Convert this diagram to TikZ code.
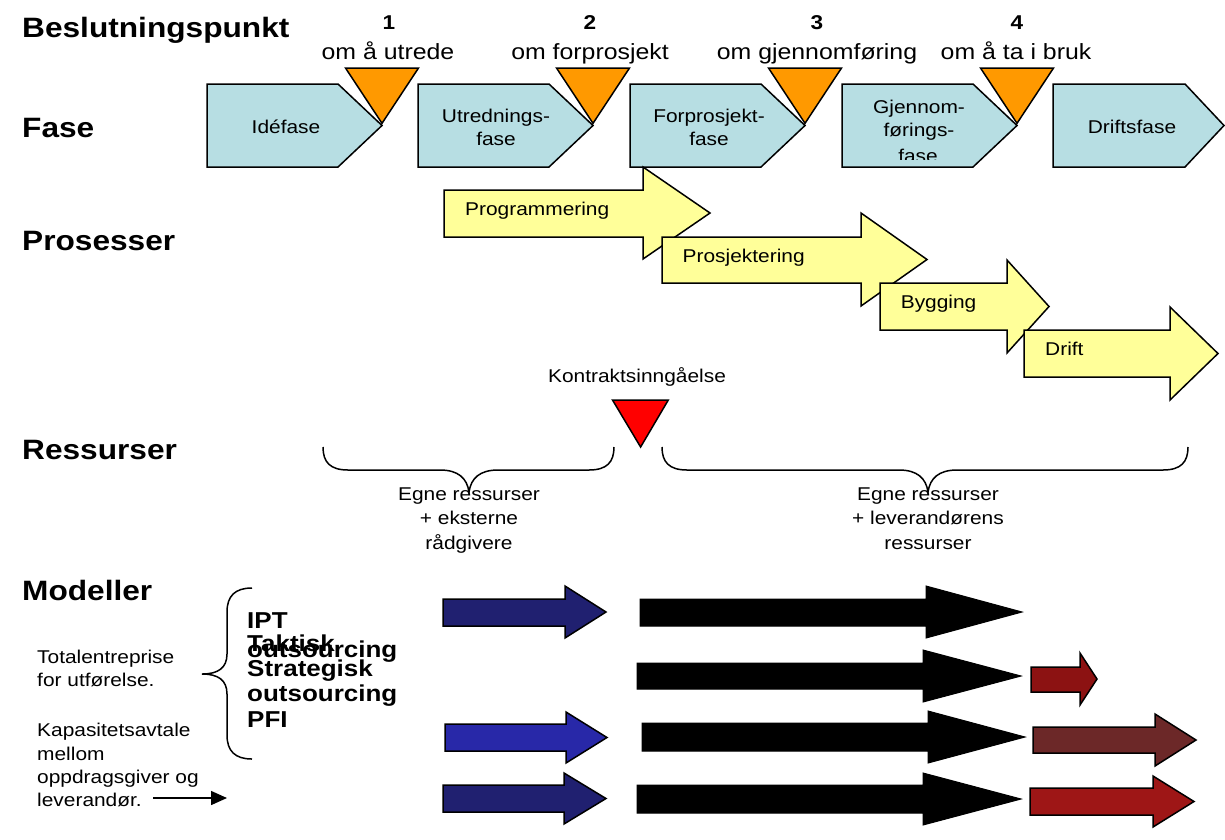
\documentclass[tikz,border=0pt]{standalone}
\usepackage{fontspec}
\setmainfont{Liberation Sans}[FakeStretch=1.13]
\usetikzlibrary{arrows.meta}

\definecolor{phasefill}{RGB}{183,222,227}
\definecolor{procfill}{RGB}{255,255,153}
\definecolor{gatefill}{RGB}{255,153,0}
\definecolor{contractfill}{RGB}{255,0,0}
\definecolor{ownblue}{RGB}{32,32,112}
\definecolor{ownbrightblue}{RGB}{40,40,168}
\definecolor{supdarkred}{RGB}{140,18,18}
\definecolor{supbrown}{RGB}{108,40,40}
\definecolor{supred}{RGB}{158,22,22}

% block arrow: style, shaft left x, shaft top y, shaft bottom y,
% head base x, head top y, head bottom y, tip x
\newcommand{\blockarrow}[8]{%
  \draw[#1] (#2,#3) -- (#5,#3) -- (#5,#6) -- (#8,{(#6+#7)/2})
    -- (#5,#7) -- (#5,#4) -- (#2,#4) -- cycle;}

% phase pentagon: left x, shoulder x, tip x
\newcommand{\phaseshape}[3]{%
  \draw[phasebox] (#1,84) -- (#2,84) -- (#3,125.5) -- (#2,167) -- (#1,167) -- cycle;}

% decision gate: tip x
\newcommand{\gatemark}[1]{%
  \draw[gate] ({#1-36.5},68) -- ({#1+36.5},68) -- (#1,123.3) -- cycle;}

\tikzset{
  heading/.style={anchor=base west, inner sep=0pt,
    font=\fontsize{28}{30}\selectfont\bfseries},
  gatenum/.style={anchor=base, inner sep=0pt,
    font=\fontsize{20}{22}\selectfont\bfseries},
  gatelabel/.style={anchor=base, inner sep=0pt,
    font=\fontsize{22}{24}\selectfont},
  smalltext/.style={inner sep=0pt, font=\fontsize{18.5}{22}\selectfont},
  modeltext/.style={anchor=base west, inner sep=0pt,
    font=\fontsize{23}{25}\selectfont\bfseries},
  phasebox/.style={draw=black, line width=1.5pt, fill=phasefill},
  gate/.style={draw=black, line width=1.5pt, fill=gatefill},
  procarrow/.style={draw=black, line width=1.5pt, fill=procfill},
  blackarrow/.style={draw=black, line width=1pt, fill=black},
  ownarrow/.style={draw=black, line width=1.5pt, fill=#1},
  brace/.style={draw=black, line width=1.5pt}
}

\begin{document}
\begin{tikzpicture}[x=1pt, y=-1pt, line join=miter]
\useasboundingbox (0,0) rectangle (1225,839);

% ---- row headings
\node[heading] (hdecision) at (22,37.7) {Beslutningspunkt};
\node[heading] (hphase) at (22,137) {Fase};
\node[heading] (hprocess) at (22,250) {Prosesser};
\node[heading] (hresource) at (22,459) {Ressurser};
\node[heading] (hmodel) at (22,600) {Modeller};

% ---- phases
\phaseshape{207}{338}{382}
\phaseshape{418}{549}{593}
\phaseshape{630}{761}{805}
\phaseshape{842}{973}{1017}
\phaseshape{1053}{1185}{1224}

\node[smalltext, anchor=base] (ph1) at (286,133.3) {Idéfase};
\node[smalltext, anchor=base] (ph2a) at (496,122) {Utrednings-};
\node[smalltext, anchor=base] (ph2b) at (496,145.5) {fase};
\node[smalltext, anchor=base] (ph3a) at (709,122) {Forprosjekt-};
\node[smalltext, anchor=base] (ph3b) at (709,145.5) {fase};
\node[smalltext, anchor=base] (ph4a) at (919,113) {Gjennom-};
\node[smalltext, anchor=base] (ph4b) at (919,136.5) {førings-};
\begin{scope}
  \clip (842,84) rectangle (973,159.5);
  \node[smalltext, anchor=base] (ph4c) at (918,162) {fase};
\end{scope}
\node[smalltext, anchor=base] (ph5) at (1132,133.3) {Driftsfase};

% ---- decision gates
\gatemark{382}
\gatemark{593}
\gatemark{805}
\gatemark{1017}

\node[gatenum] (g1) at (389,29.3) {1};
\node[gatenum] (g2) at (590,29.3) {2};
\node[gatenum] (g3) at (817,29.3) {3};
\node[gatenum] (g4) at (1017,29.3) {4};
\node[gatelabel] (g1l) at (388,59.3) {om å utrede};
\node[gatelabel] (g2l) at (590,59.3) {om forprosjekt};
\node[gatelabel] (g3l) at (817,59.3) {om gjennomføring};
\node[gatelabel] (g4l) at (1016,59.3) {om å ta i bruk};

% ---- processes
\blockarrow{procarrow}{444}{190}{237}{643}{167}{259}{710}
\blockarrow{procarrow}{662}{237}{283}{861}{213}{306}{927}
\blockarrow{procarrow}{880}{283}{330}{1007}{260}{353}{1049}
\blockarrow{procarrow}{1024}{330}{377}{1170}{307}{400}{1218}

\node[smalltext, anchor=base west] (pr1) at (465,215.5) {Programmering};
\node[smalltext, anchor=base west] (pr2) at (682.5,262) {Prosjektering};
\node[smalltext, anchor=base west] (pr3) at (900.6,308.5) {Bygging};
\node[smalltext, anchor=base west] (pr4) at (1045,355.5) {Drift};

% ---- contract signing
\node[smalltext, anchor=base] (contract) at (637,382) {Kontraktsinngåelse};
\draw[draw=black, line width=1.5pt, fill=contractfill]
  (612.5,400) -- (668.3,400) -- (640.6,447) -- cycle;

% ---- resource braces
\draw[brace] (323,447) .. controls (323,462) and (330,470) .. (348,470)
  -- (440,470) .. controls (458,470) and (467,478) .. (469,492)
  .. controls (471,478) and (480,470) .. (498,470)
  -- (589,470) .. controls (607,470) and (614,462) .. (614,447);
\draw[brace] (662,447) .. controls (662,462) and (669,470) .. (687,470)
  -- (899,470) .. controls (917,470) and (926,478) .. (928,492)
  .. controls (930,478) and (939,470) .. (957,470)
  -- (1163,470) .. controls (1181,470) and (1188,462) .. (1188,447);

\node[smalltext, anchor=base] (res1a) at (469,500) {Egne ressurser};
\node[smalltext, anchor=base] (res1b) at (469,524.5) {+ eksterne};
\node[smalltext, anchor=base] (res1c) at (469,549) {rådgivere};
\node[smalltext, anchor=base] (res2a) at (928,500) {Egne ressurser};
\node[smalltext, anchor=base] (res2b) at (928,524.5) {+ leverandørens};
\node[smalltext, anchor=base] (res2c) at (928,549) {ressurser};

% ---- models
\node[smalltext, anchor=base west] (tot1) at (37,663.3) {Totalentreprise};
\node[smalltext, anchor=base west] (tot2) at (37,686.7) {for utførelse.};
\node[smalltext, anchor=base west] (kap1) at (37,736.7) {Kapasitetsavtale};
\node[smalltext, anchor=base west] (kap2) at (37,760) {mellom};
\node[smalltext, anchor=base west] (kap3) at (37,783.3) {oppdragsgiver og};
\node[smalltext, anchor=base west] (kap4) at (37,806.7) {leverandør.};

\coordinate (capfrom) at (153,798);
\coordinate (capto) at (227,798);
\draw[line width=1.5pt, -{Triangle[length=16pt,width=14pt]}] (capfrom) -- (capto);

\draw[brace] (252,588) .. controls (235,588) and (227,596) .. (227,612)
  -- (227,654) .. controls (227,668) and (218,674) .. (202,674)
  .. controls (218,674) and (227,680) .. (227,694)
  -- (227,735) .. controls (227,751) and (235,759) .. (252,759);

\node[modeltext] (mipt) at (247,628.3) {IPT};
\node[modeltext] (mtak) at (247,651) {Taktisk};
\node[modeltext] (mtako) at (247,657.5) {outsourcing};
\node[modeltext] (mstr) at (247,676.5) {Strategisk};
\node[modeltext] (mstro) at (247,701.5) {outsourcing};
\node[modeltext] (mpfi) at (247,727) {PFI};

% row 1
\blockarrow{ownarrow=ownblue}{443}{599}{626}{565}{586}{638}{606}
\blockarrow{blackarrow}{640}{599}{626}{926}{586}{638}{1022}
% row 2
\blockarrow{blackarrow}{637}{663}{689}{923}{650}{702}{1021}
\blockarrow{ownarrow=supdarkred}{1031}{667}{692}{1080}{653}{705}{1097}
% row 3
\blockarrow{ownarrow=ownbrightblue}{445}{724}{751}{566}{712}{763}{607}
\blockarrow{blackarrow}{642}{723}{751}{928}{711}{763}{1025}
\blockarrow{ownarrow=supbrown}{1033}{727}{753}{1155}{714}{766}{1196}
% row 4
\blockarrow{ownarrow=ownblue}{443}{785}{812}{564}{773}{824}{606}
\blockarrow{blackarrow}{637}{785}{813}{923}{773}{825}{1021}
\blockarrow{ownarrow=supred}{1030}{788}{815}{1153}{776}{827}{1194}

\end{tikzpicture}
\end{document}
